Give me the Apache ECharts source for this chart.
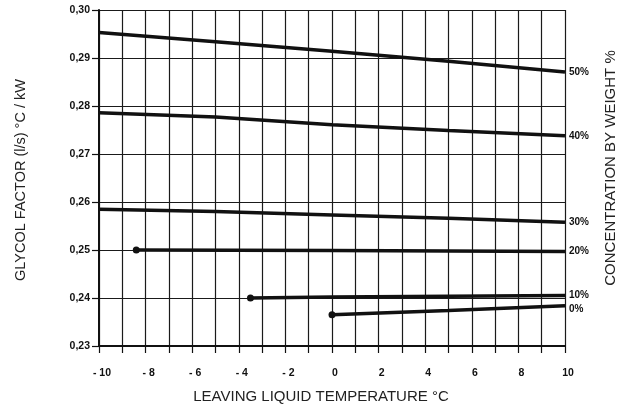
<!DOCTYPE html>
<html>
<head>
<meta charset="utf-8">
<script src="https://cdn.jsdelivr.net/npm/echarts@6/dist/echarts.min.js"></script>
<style>
html,body{margin:0;padding:0;background:#fff;}
#chart{width:631px;height:408px;}
</style>
</head>
<body>
<div id="chart"></div>
<script>
// Leaving liquid temperature (°C) and glycol factor values per concentration
var x50 = [-10, -5, 0, 5, 10];
var y50 = [0.2953, 0.2934, 0.2914, 0.2893, 0.2871];
var x40 = [-10, -5, 0, 5, 10];
var y40 = [0.2786, 0.2777, 0.2761, 0.2749, 0.2738];
var x30 = [-10, -5, 0, 5, 10];
var y30 = [0.2585, 0.2580, 0.2573, 0.2566, 0.2558];
var x20 = [-8.4, 0, 10];
var y20 = [0.2500, 0.2499, 0.2497];
var x10 = [-3.5, 0, 10];
var y10 = [0.2400, 0.2402, 0.2405];
var x0 = [0, 5, 10];
var y0 = [0.2365, 0.2374, 0.2384];
var seriesNames = ['50%', '40%', '30%', '20%', '10%', '0%'];
var xTickLabels = ['- 10', '- 8', '- 6', '- 4', '- 2', '0', '2', '4', '6', '8', '10'];

var xs = [x50, x40, x30, x20, x10, x0];
var ys = [y50, y40, y30, y20, y10, y0];
var withDot = [false, false, false, true, true, true];
var labelOffsets = [[0, 0], [0, 0], [0, 0], [0, 0], [0, 0], [0, 4]];

function pairs(a, b) { return a.map(function (v, i) { return [v, b[i]]; }); }

var chart = echarts.init(document.getElementById('chart'), null, {renderer: 'canvas'});
var FONT = 'Liberation Sans, Arial, sans-serif';

var series = seriesNames.map(function (name, k) {
  return {
    name: name,
    type: 'line',
    data: pairs(xs[k], ys[k]),
    showSymbol: withDot[k],
    symbol: 'circle',
    symbolSize: function (val, params) { return params.dataIndex === 0 ? 7 : 0; },
    itemStyle: {color: '#111'},
    lineStyle: {color: '#111', width: 3.5},
    animation: false,
    silent: true,
    endLabel: {
      show: true,
      formatter: name,
      color: '#111',
      fontFamily: FONT,
      fontWeight: 'bold',
      fontSize: 10,
      distance: 4,
      offset: labelOffsets[k]
    },
    z: 5
  };
});

chart.setOption({
  animation: false,
  backgroundColor: '#fff',
  grid: {left: 99, right: 66, top: 10, bottom: 62},
  xAxis: {
    type: 'value',
    min: -10, max: 10, interval: 1,
    axisLine: {show: true, onZero: false, lineStyle: {color: '#111', width: 2}},
    axisTick: {show: true, length: 7, inside: false, lineStyle: {color: '#111', width: 1.2}},
    splitLine: {show: true, lineStyle: {color: '#1a1a1a', width: 1.2}},
    axisLabel: {
      margin: 22,
      color: '#111',
      fontFamily: FONT,
      fontWeight: 'bold',
      fontSize: 10.5,
      padding: [0, 0, 0, 6],
      formatter: function (v) {
        var r = Math.round(v);
        if (r % 2 !== 0) return '';
        return xTickLabels[(r + 10) / 2];
      }
    }
  },
  yAxis: {
    type: 'value',
    min: 0.23, max: 0.30, interval: 0.01,
    axisLine: {show: true, onZero: false, lineStyle: {color: '#111', width: 2}},
    axisTick: {show: true, length: 7, inside: false, lineStyle: {color: '#111', width: 1.2}},
    splitLine: {show: true, lineStyle: {color: '#1a1a1a', width: 1.2}},
    axisLabel: {
      margin: 9,
      color: '#111',
      fontFamily: FONT,
      fontWeight: 'bold',
      fontSize: 10.5,
      formatter: function (v) { return v.toFixed(2).replace('.', ','); }
    }
  },
  graphic: [
    {
      type: 'text',
      x: 21, y: 180,
      rotation: Math.PI / 2,
      style: {
        text: 'GLYCOL FACTOR (l/s) °C / kW',
        fill: '#222',
        font: '14.5px Liberation Sans, Arial, sans-serif',
        textAlign: 'center',
        textVerticalAlign: 'middle'
      }
    },
    {
      type: 'text',
      x: 611, y: 168,
      rotation: Math.PI / 2,
      style: {
        text: 'CONCENTRATION BY WEIGHT %',
        fill: '#222',
        font: '15px Liberation Sans, Arial, sans-serif',
        textAlign: 'center',
        textVerticalAlign: 'middle'
      }
    },
    {
      type: 'text',
      x: 321, y: 397,
      style: {
        text: 'LEAVING LIQUID TEMPERATURE °C',
        fill: '#222',
        font: '15px Liberation Sans, Arial, sans-serif',
        textAlign: 'center',
        textVerticalAlign: 'middle'
      }
    }
  ],
  series: series
});
</script>
</body>
</html>
